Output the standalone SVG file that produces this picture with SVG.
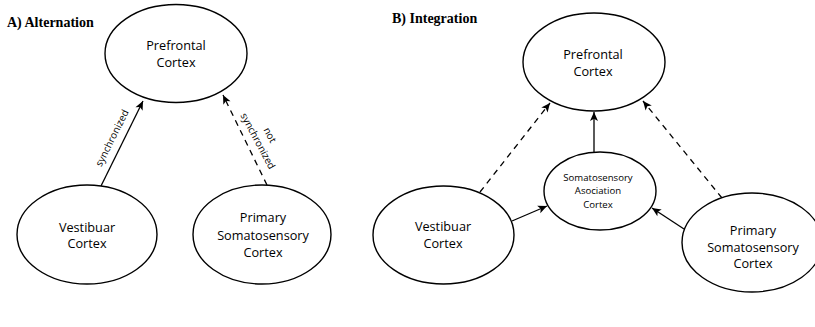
<svg xmlns="http://www.w3.org/2000/svg" width="815" height="327" viewBox="0 0 815 327">
<defs>
<marker id="ah" markerUnits="userSpaceOnUse" markerWidth="12" markerHeight="10" refX="9" refY="4" orient="auto" overflow="visible">
<path d="M0,0 L9,4 L0,8 L2.2,4 Z" fill="#000"/>
</marker>
</defs>
<style>
.node ellipse{fill:#fff;stroke:#000;stroke-width:1.4}
.lbl{font-family:"Open Sans","DejaVu Sans",sans-serif;font-size:12.7px;fill:#000;text-anchor:middle}
.sm{font-size:9.6px}
.el{font-family:"Open Sans","DejaVu Sans",sans-serif;font-size:10px;fill:#000;text-anchor:middle}
.title{font-family:"Liberation Serif",serif;font-weight:bold;font-size:14px;fill:#000}
.c{fill:none;stroke:#000;stroke-width:1.3;marker-end:url(#ah)}
.d{stroke-dasharray:6 5}
</style>
<rect width="815" height="327" fill="#fff"/>
<text class="title" x="7" y="27">A) Alternation</text>
<text class="title" x="392" y="23">B) Integration</text>

<g id="connectors">
<line class="c" x1="101" y1="186" x2="143" y2="101"/>
<line class="c d" x1="267" y1="185" x2="223" y2="95"/>
<line class="c" x1="594" y1="152" x2="594" y2="112"/>
<line class="c d" x1="480" y1="192" x2="550" y2="103"/>
<line class="c d" x1="722" y1="198" x2="643" y2="101"/>
<line class="c" x1="512" y1="221" x2="547" y2="206"/>
<line class="c" x1="684" y1="229" x2="652" y2="208"/>
<text class="el" transform="translate(112,138) rotate(-63.5)" y="3.5">synchronized</text>
<text class="el" transform="translate(258,141) rotate(62)" y="3.5">synchronized</text>
<text class="el" transform="translate(270,135) rotate(62)" y="3.5">not</text>
</g>

<g id="a-prefrontal" class="node">
<ellipse cx="176" cy="53.5" rx="71" ry="49"/>
<text class="lbl" x="176" y="49.5">Prefrontal</text>
<text class="lbl" x="176" y="66.5">Cortex</text>
</g>
<g id="a-vestibular" class="node">
<ellipse cx="87" cy="234.5" rx="70" ry="49.5"/>
<text class="lbl" x="87" y="231.5">Vestibuar</text>
<text class="lbl" x="87" y="248">Cortex</text>
</g>
<g id="a-primary" class="node">
<ellipse cx="262" cy="234.5" rx="69" ry="49.5"/>
<text class="lbl" x="263" y="222">Primary</text>
<text class="lbl" x="263" y="239.5">Somatosensory</text>
<text class="lbl" x="263" y="257">Cortex</text>
</g>

<g id="b-prefrontal" class="node">
<ellipse cx="594" cy="62" rx="71" ry="49"/>
<text class="lbl" x="593" y="58.5">Prefrontal</text>
<text class="lbl" x="593" y="76">Cortex</text>
</g>
<g id="b-association" class="node">
<ellipse cx="600" cy="191" rx="56" ry="39"/>
<text class="lbl sm" x="598" y="181">Somatosensory</text>
<text class="lbl sm" x="598" y="194.3">Asociation</text>
<text class="lbl sm" x="598" y="207.5">Cortex</text>
</g>
<g id="b-vestibular" class="node">
<ellipse cx="443.5" cy="235" rx="70.5" ry="49"/>
<text class="lbl" x="443" y="231">Vestibuar</text>
<text class="lbl" x="443" y="247.7">Cortex</text>
</g>
<g id="b-primary" class="node">
<ellipse cx="752" cy="242.5" rx="70" ry="49.5"/>
<text class="lbl" x="753" y="235">Primary</text>
<text class="lbl" x="753" y="251.7">Somatosensory</text>
<text class="lbl" x="753" y="268.3">Cortex</text>
</g>
</svg>
